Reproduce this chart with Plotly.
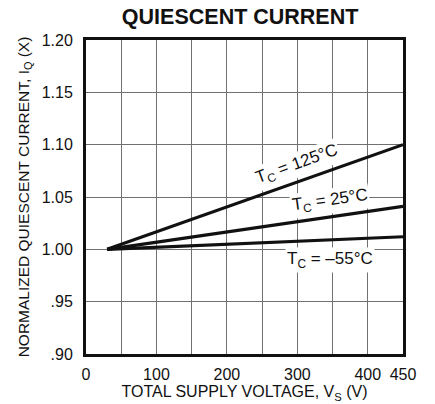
import plotly.graph_objects as go

# ---- data ----
voltage = [30, 450]
iq_125 = [1.000, 1.100]
iq_25 = [1.000, 1.041]
iq_m55 = [1.000, 1.012]

x_tickvals = [0, 50, 100, 150, 200, 250, 300, 350, 400, 450]
x_ticktext = ["0", "", "100", "", "200", "", "300", "", "400", "450"]
y_tickvals = [0.90, 0.95, 1.00, 1.05, 1.10, 1.15, 1.20]
y_ticktext = [".90", ".95", "1.00", "1.05", "1.10", "1.15", "1.20"]

labels = ["T<sub>C</sub> = 125°C", "T<sub>C</sub> = 25°C", "T<sub>C</sub> = –55°C"]
label_x = [299, 347, 347]
label_y = [1.081, 1.046, 0.990]
label_angle = [-20, -8, 0]

FONT = "Liberation Sans, Arial, Helvetica, sans-serif"

fig = go.Figure()
for ys in (iq_125, iq_25, iq_m55):
    fig.add_trace(go.Scatter(x=voltage, y=ys, mode="lines",
                             line=dict(color="#111111", width=3.2),
                             showlegend=False, hoverinfo="skip"))

for t, lx, ly, ang in zip(labels, label_x, label_y, label_angle):
    fig.add_annotation(x=lx, y=ly, text=t, showarrow=False, textangle=ang,
                       font=dict(family=FONT, size=17, color="#111111"),
                       bgcolor="white", borderpad=1)

fig.update_layout(
    width=435, height=404,
    margin=dict(l=86, r=32, t=40, b=50, autoexpand=False),
    paper_bgcolor="white", plot_bgcolor="white",
    font=dict(family=FONT, size=16, color="#111111"),
    title=dict(text="<b>QUIESCENT CURRENT</b>", x=0.552, xref="container", xanchor="center",
               y=0.958, yref="container", yanchor="middle",
               font=dict(family=FONT, size=21.5, color="#111111")),
    xaxis=dict(range=[0, 450], tickmode="array", tickvals=x_tickvals, ticktext=x_ticktext,
               showgrid=True, gridcolor="#707070", gridwidth=1.3,
               showline=True, linecolor="#111111", linewidth=3, mirror=True,
               ticks="", ticklabelstandoff=4, zeroline=False, automargin=False,
               title=dict(text="TOTAL SUPPLY VOLTAGE, V<sub>S</sub> (V)", standoff=2,
                          font=dict(family=FONT, size=16))),
    yaxis=dict(range=[0.90, 1.20], tickmode="array", tickvals=y_tickvals, ticktext=y_ticktext,
               showgrid=True, gridcolor="#707070", gridwidth=1.3,
               showline=True, linecolor="#111111", linewidth=3, mirror=True,
               ticks="", ticklabelstandoff=7, zeroline=False, automargin=False,
               title=dict(text="NORMALIZED QUIESCENT CURRENT, I<sub>Q</sub> (X)", standoff=9,
                          font=dict(family=FONT, size=15.5))),
)

fig.write_html("out.html", config={"displayModeBar": False},
               post_script="document.body.style.margin='0';document.body.style.overflow='hidden';")
